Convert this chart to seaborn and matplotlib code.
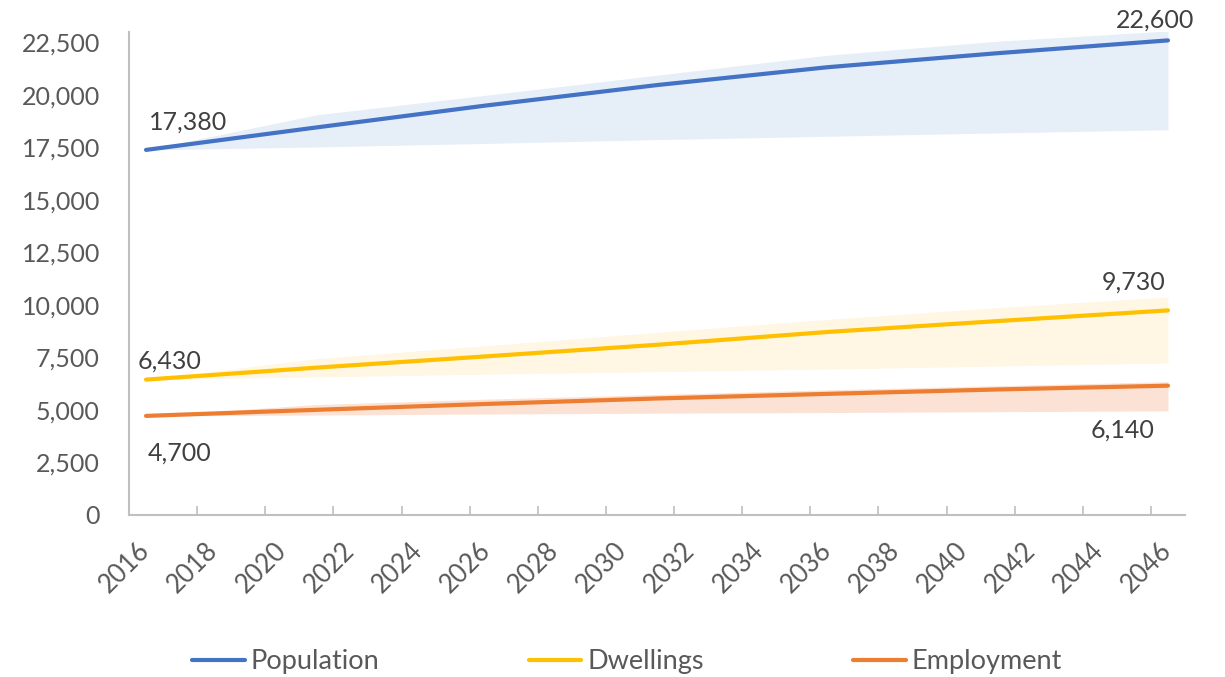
import numpy as np
import pandas as pd
import matplotlib
matplotlib.use("Agg")
import matplotlib.pyplot as plt
import seaborn as sns
from matplotlib.ticker import FuncFormatter, FixedLocator
from matplotlib.lines import Line2D

# ---------------- data ----------------
years = [2016, 2021, 2026, 2031, 2036, 2041, 2046]
population = [17380, 18450, 19500, 20470, 21320, 21990, 22600]
population_high = [17380, 19050, 19990, 20940, 21890, 22560, 23050]
population_low = [17380, 17520, 17690, 17870, 18030, 18190, 18340]
dwellings = [6430, 7000, 7540, 8090, 8700, 9220, 9730]
dwellings_high = [6430, 7430, 8050, 8680, 9300, 9860, 10370]
dwellings_low = [6430, 6560, 6690, 6810, 6930, 7080, 7220]
employment = [4700, 4990, 5270, 5530, 5750, 5960, 6140]
employment_high = [4700, 5240, 5500, 5720, 5940, 6140, 6330]
employment_low = [4700, 4740, 4790, 4830, 4860, 4900, 4940]
series_names = ["Population", "Dwellings", "Employment"]
tick_years = list(range(2016, 2047, 2))
y_ticks = list(range(0, 22501, 2500))

# ---------------- style ----------------
sns.set_theme(style="white")
plt.rcParams["font.family"] = ["Lato", "DejaVu Sans"]

line_colors = ["#4472C4", "#FFC000", "#ED7D31"]
band_colors = ["#E6EEF8", "#FFF7E4", "#FBE2D5"]
tick_color = "#595959"
label_color = "#404040"
spine_color = "#BFBFBF"

df = pd.DataFrame({
    "Year": years * 3,
    "Value": population + dwellings + employment,
    "Series": [series_names[0]] * len(years) + [series_names[1]] * len(years) + [series_names[2]] * len(years),
})

fig = plt.figure(figsize=(12.25, 6.77), dpi=100)
ax = fig.add_axes([129 / 1225, 1 - 514.5 / 677, (1185 - 129) / 1225, (514.5 - 32) / 677])

# bands
for lo, hi, c in [(population_low, population_high, band_colors[0]),
                  (dwellings_low, dwellings_high, band_colors[1]),
                  (employment_low, employment_high, band_colors[2])]:
    ax.fill_between(years, lo, hi, color=c, linewidth=0, zorder=1)

sns.lineplot(data=df, x="Year", y="Value", hue="Series", palette=line_colors,
             hue_order=series_names, linewidth=3, legend=False, ax=ax, zorder=3)
for ln in ax.get_lines():
    ln.set_solid_capstyle("round")

ax.set_xlim(2015.5, 2046.5)
ax.set_ylim(0, 23000)
ax.set_xlabel("")
ax.set_ylabel("")

ax.xaxis.set_major_locator(FixedLocator(tick_years))
ax.set_xticklabels([str(y) for y in tick_years])
ax.xaxis.set_minor_locator(FixedLocator([y - 0.5 for y in tick_years]))
ax.yaxis.set_major_locator(FixedLocator(y_ticks))
ax.yaxis.set_major_formatter(FuncFormatter(lambda v, p: f"{int(v):,}"))

ax.tick_params(axis="x", which="major", length=0, pad=23, labelsize=18.5,
               labelcolor=tick_color)
ax.tick_params(axis="x", which="minor", direction="in", length=6.5, width=1.2,
               color=spine_color, bottom=True)
ax.tick_params(axis="y", which="major", length=0, pad=21, labelsize=18,
               labelcolor=tick_color)
for lbl in ax.get_xticklabels():
    lbl.set_rotation(45)
    lbl.set_ha("right")
    lbl.set_va("center")
    lbl.set_rotation_mode("anchor")

for s in ["top", "right"]:
    ax.spines[s].set_visible(False)
for s in ["left", "bottom"]:
    ax.spines[s].set_color(spine_color)
    ax.spines[s].set_linewidth(1.5)
ax.grid(False)

# data labels (offsets in points; 1 px = 0.72 pt)
def px(v):
    return v * 0.72

labels = [
    (years[0], population[0], f"{population[0]:,}", 3, 28, "left"),
    (years[-1], population[-1], f"{population[-1]:,}", -13, 20, "center"),
    (years[0], dwellings[0], f"{dwellings[0]:,}", -8, 19, "left"),
    (years[-1], dwellings[-1], f"{dwellings[-1]:,}", -2, 28, "right"),
    (years[0], employment[0], f"{employment[0]:,}", 2, -37, "left"),
    (years[-1], employment[-1], f"{employment[-1]:,}", -13, -44, "right"),
]
for x, y, t, dx, dy, ha in labels:
    ax.annotate(t, xy=(x, y), xytext=(px(dx), px(dy)), textcoords="offset points",
                ha=ha, va="center", fontsize=18, color=label_color,
                annotation_clip=False, zorder=5)

handles = [Line2D([0], [0], color=c, lw=3, solid_capstyle="round") for c in line_colors]
fig.legend(handles, series_names, loc="center", bbox_to_anchor=(627 / 1225, 1 - 662 / 677),
           ncol=3, frameon=False, fontsize=19.5, handlelength=1.95, handletextpad=0.22,
           columnspacing=5.5, labelcolor=tick_color)

fig.savefig("out.png", dpi=100)
